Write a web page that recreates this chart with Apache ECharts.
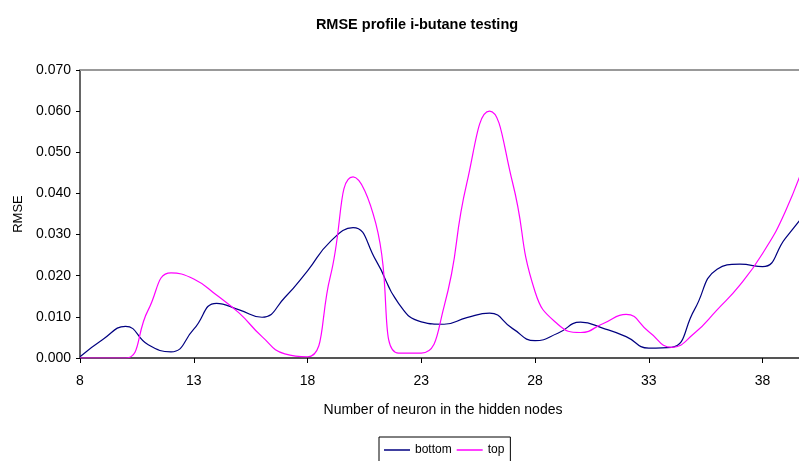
<!DOCTYPE html>
<html>
<head>
<meta charset="utf-8">
<script src="https://cdn.jsdelivr.net/npm/echarts@6/dist/echarts.min.js"></script>
<style>
html,body{margin:0;padding:0;background:#fff;}
#chart{width:799px;height:461px;}
</style>
</head>
<body>
<div id="chart"></div>
<script>
const nodes = [8,9,10,11,12,13,14,15,16,17,18,19,20,21,22,23,24,25,26,27,28,29,30,31,32,33,34,35,36,37,38,39,40];
const bottom = [0.0003,0.0045,0.0077,0.0032,0.0015,0.0070,0.0133,0.0117,0.0099,0.0147,0.0212,0.0283,0.0317,0.0238,0.0133,0.0088,0.0082,0.0098,0.0109,0.0072,0.0042,0.0060,0.0087,0.0072,0.0052,0.0024,0.0026,0.0117,0.0216,0.0228,0.0222,0.0291,0.0360];
const top_ = [0.0000,0.0000,0.0000,0.0117,0.0207,0.0192,0.0153,0.0109,0.0052,0.0010,0.0003,0.0198,0.0440,0.0327,0.0012,0.0012,0.0125,0.0425,0.0600,0.0429,0.0161,0.0082,0.0062,0.0084,0.0106,0.0064,0.0026,0.0060,0.0117,0.0177,0.0254,0.0356,0.0500];
const titleText = 'RMSE profile i-butane testing';
const xName = 'Number of neuron in the hidden nodes';
const yName = 'RMSE';

const pairs = vals => nodes.map((n, i) => [n, vals[i]]);

const chart = echarts.init(document.getElementById('chart'));
const font = 'Liberation Sans, Arial, sans-serif';
const xMin = 8, xMax = 39.6;
chart.setOption({
  animation: false,
  backgroundColor: '#fff',
  title: {
    text: titleText, left: 412, top: 12, textAlign: 'center',
    textStyle: {fontFamily: font, fontSize: 14.5, fontWeight: 'bold', color: '#000'}
  },
  legend: {
    data: ['bottom', 'top'], left: 379, top: 437,
    borderColor: '#000', borderWidth: 1, padding: [7, 6, 10, 5],
    icon: 'rect', itemWidth: 26, itemHeight: 1.5, itemGap: 5,
    textStyle: {fontFamily: font, fontSize: 12, color: '#000'}
  },
  grid: {left: 80, top: 70, right: 0, bottom: 103, containLabel: false},
  xAxis: [{
    type: 'value', min: xMin, max: xMax, interval: 5,
    name: xName, nameLocation: 'middle', nameGap: 45,
    nameTextStyle: {fontFamily: font, fontSize: 14, color: '#000', padding: [0, 0, 0, 7]},
    axisLine: {lineStyle: {color: '#555', width: 2}},
    axisTick: {length: 5, lineStyle: {color: '#000', width: 1}},
    axisLabel: {margin: 16, showMaxLabel: false, fontFamily: font, fontSize: 14, color: '#000'},
    splitLine: {show: false}
  }, {
    type: 'value', min: xMin, max: xMax, position: 'top',
    axisLine: {show: true, lineStyle: {color: '#999', width: 2}},
    axisTick: {show: false}, axisLabel: {show: false}, splitLine: {show: false}
  }],
  yAxis: {
    type: 'value', min: 0, max: 0.07, interval: 0.01,
    name: yName, nameLocation: 'middle', nameGap: 50, nameRotate: 90,
    nameTextStyle: {fontFamily: font, fontSize: 13, color: '#000'},
    axisLine: {show: true, lineStyle: {color: '#333', width: 1.5}},
    axisTick: {show: true, length: 4, lineStyle: {color: '#000'}},
    axisLabel: {margin: 9, fontFamily: font, fontSize: 14, color: '#000', formatter: v => v.toFixed(3)},
    splitLine: {show: false}
  },
  series: [{
    name: 'bottom', type: 'line', data: pairs(bottom), smooth: 0.5, showSymbol: false,
    lineStyle: {color: '#000080', width: 1.2}, itemStyle: {color: '#000080'}
  }, {
    name: 'top', type: 'line', data: pairs(top_), smooth: 0.5, showSymbol: false,
    lineStyle: {color: '#FF00FF', width: 1.2}, itemStyle: {color: '#FF00FF'}
  }]
});
</script>
</body>
</html>
